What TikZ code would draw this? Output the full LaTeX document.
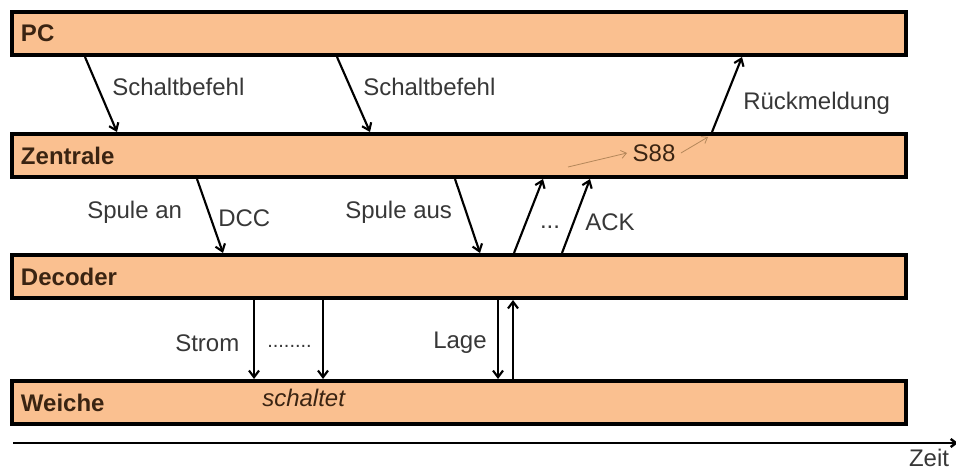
\documentclass[tikz,border=0pt]{standalone}
\usepackage{fontspec}
\setmainfont{Liberation Sans}
\usetikzlibrary{arrows.meta,calc,positioning}
\definecolor{barfill}{RGB}{250,192,144}
\definecolor{barlabel}{RGB}{58,36,18}
\definecolor{msgtext}{RGB}{55,55,55}
\definecolor{feedcolor}{RGB}{180,135,90}
\tikzset{
  bar/.style={draw=black,line width=3pt,fill=barfill,minimum height=32.25pt,text width=657pt,inner xsep=6.75pt,inner ysep=0pt,align=left,text=barlabel,font=\fontsize{18}{21}\selectfont\bfseries},
  cmd/.style={-{Straight Barb[length=5pt,width=7.5pt]},line width=1.6pt},
  msg/.style={text=msgtext,inner sep=0pt},
  feed/.style={-{Straight Barb[length=4pt,width=6pt]},line width=0.6pt,draw=feedcolor}
}

\begin{document}
\begin{tikzpicture}[x=0.75pt,y=-0.75pt,font=\fontsize{18}{21}\selectfont]
  \useasboundingbox (0,0) rectangle (956,474);

  % --- Layers ---
  \node[bar] (PC) at (459,33.5) {PC};
  \node[bar,below=56.25pt of PC] (ZE) {Zentrale};
  \node[bar,below=55.5pt of ZE] (DE) {Decoder};
  \node[bar,below=59.25pt of DE] (WE) {Weiche};

  % --- PC <-> Zentrale ---
  \draw[cmd] ($(PC.south west)+(75,0)$) -- ($(ZE.north west)+(107,0)$);
  \draw[cmd] ($(PC.south west)+(327,0)$) -- ($(ZE.north west)+(360,0)$);
  \draw[cmd] ($(ZE.north west)+(702,0)$) -- ($(PC.south west)+(732,0)$);
  \node[msg,anchor=west] (sb1) at (112,87) {Schaltbefehl};
  \node[msg,anchor=west] (sb2) at (363,87) {Schaltbefehl};
  \node[msg,anchor=west] (rm) at (743,103) {Rückmeldung};

  % --- S88 inside Zentrale ---
  \node[text=barlabel,inner xsep=4pt,inner ysep=0pt] (S88) at (654,153) {S88};
  \coordinate (s88in) at (568,167);
  \coordinate (s88out) at (708,137);
  \draw[feed] (s88in) -- (S88.west);
  \draw[feed] (S88.east) -- (s88out);

  % --- Zentrale <-> Decoder ---
  \draw[cmd] ($(ZE.south west)+(187,0)$) -- ($(DE.north west)+(213,0)$);
  \draw[cmd] ($(ZE.south west)+(445,0)$) -- ($(DE.north west)+(470,0)$);
  \draw[cmd] ($(DE.north west)+(504,0)$) -- ($(ZE.south west)+(533,0)$);
  \draw[cmd] ($(DE.north west)+(552,0)$) -- ($(ZE.south west)+(580,0)$);
  \node[msg,anchor=west] (san) at (87,212) {Spule an};
  \node[msg,anchor=west] (dcc) at (218,218) {DCC};
  \node[msg,anchor=west] (saus) at (345,212) {Spule aus};
  \node[msg,anchor=base] (dots1) at (550,228) {...};
  \node[msg,anchor=west] (ack) at (585,222) {ACK};

  % --- Decoder <-> Weiche ---
  \draw[cmd] ($(DE.south west)+(244,0)$) -- ($(WE.north west)+(244,0)$);
  \draw[cmd] ($(DE.south west)+(313,0)$) -- ($(WE.north west)+(313,0)$);
  \draw[cmd] ($(DE.south west)+(488,0)$) -- ($(WE.north west)+(488,0)$);
  \draw[cmd] ($(WE.north west)+(503,0)$) -- ($(DE.south west)+(503,0)$);
  \node[msg,anchor=west] (strom) at (175,343) {Strom};
  \node[msg,anchor=base west,font=\fontsize{15}{18}\selectfont] (dots2) at (267,347) {........};
  \node[msg,anchor=west] (lage) at (433,343) {Lage};
  \node[msg,anchor=west,text=barlabel,font=\fontsize{18}{21}\selectfont\itshape] (sch) at (262,398) {schaltet};

  % --- Time axis ---
  \coordinate (t0) at (13,443);
  \coordinate (t1) at (958,443);
  \draw[-{Straight Barb[length=4pt,width=6pt]},line width=1.8pt] (t0) -- (t1);
  \node[msg,anchor=base] (zeit) at (929,466) {Zeit};
\end{tikzpicture}
\end{document}
